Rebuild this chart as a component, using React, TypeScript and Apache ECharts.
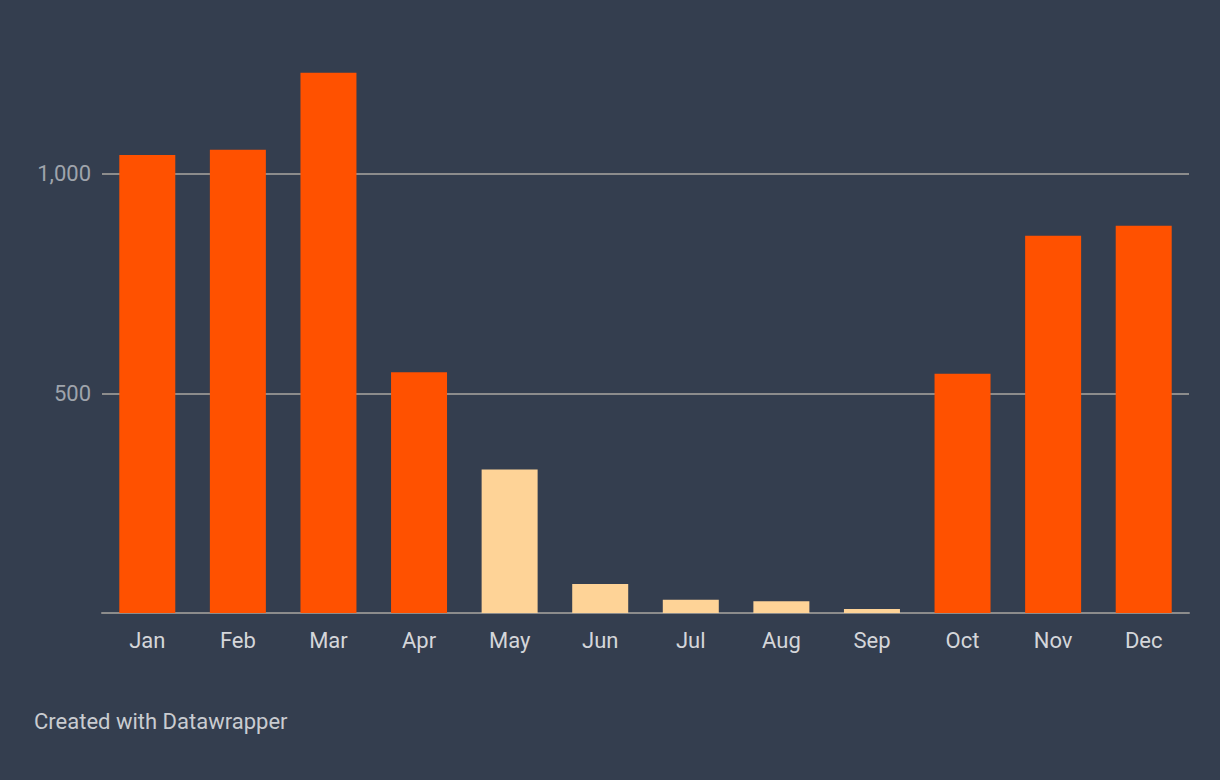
import React, { useEffect, useRef } from "react";
import * as echarts from "echarts";

const months = ["Jan", "Feb", "Mar", "Apr", "May", "Jun", "Jul", "Aug", "Sep", "Oct", "Nov", "Dec"];
const values = [1043, 1055, 1230, 548, 327, 66, 30, 27, 9, 545, 859, 882];
const highlighted = [false, false, false, false, true, true, true, true, true, false, false, false];
const yTicks = [0, 500, 1000];

const ORANGE = "#ff5100";
const LIGHT = "#fed397";
const BG = "#343e4f";

export default function App() {
  const ref = useRef<HTMLDivElement>(null);
  useEffect(() => {
    if (!ref.current) return;
    const chart = echarts.init(ref.current, undefined, { renderer: "svg" });
    chart.setOption({
      animation: false,
      backgroundColor: BG,
      grid: { left: 102, right: 31, top: 64, bottom: 167, containLabel: false },
      xAxis: {
        type: "category",
        data: months,
        axisLine: { show: true, lineStyle: { color: "#8c8c8c", width: 2 } },
        axisTick: { show: false },
        axisLabel: {
          color: "#d4d6da",
          fontFamily: "Roboto",
          fontSize: 22,
          margin: 16,
        },
      },
      yAxis: {
        type: "value",
        min: 0,
        max: 1250,
        interval: 500,
        axisLine: { show: false },
        axisTick: { show: false },
        axisLabel: {
          color: "#9fa4ac",
          fontFamily: "Roboto",
          fontSize: 22,
          margin: 11,
          showMaxLabel: false,
          formatter: (v: number) => (yTicks.includes(v) && v !== 0 ? v.toLocaleString("en-US") : ""),
        },
        splitLine: {
          show: true,
          showMaxLine: false,
          showMinLine: false,
          lineStyle: { color: "#8c8c8c", width: 2 },
        },
      },
      series: [
        {
          type: "bar",
          barWidth: 56,
          data: values.map((v, i) => ({
            value: v,
            itemStyle: { color: highlighted[i] ? LIGHT : ORANGE },
          })),
        },
      ],
      graphic: [
        {
          type: "text",
          left: 34,
          top: 710,
          style: {
            text: "Created with Datawrapper",
            fill: "#c9ccd1",
            font: "22px Roboto",
          },
        },
      ],
    });
    return () => chart.dispose();
  }, []);
  return <div ref={ref} style={{ width: 1220, height: 780, position: "absolute", left: 0, top: 0 }} />;
}
